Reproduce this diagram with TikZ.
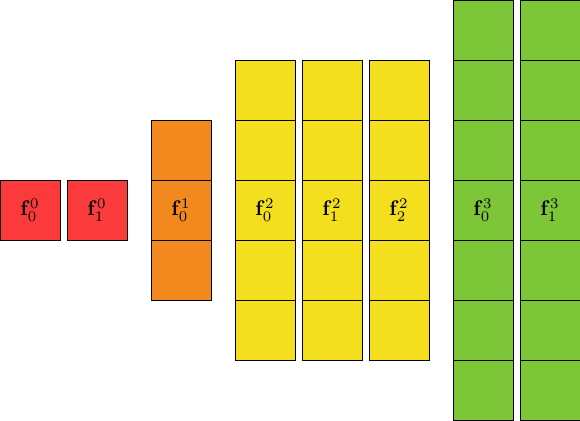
\documentclass[tikz,border=0pt]{standalone}
\usepackage{amsmath}
\definecolor{lvlzero}{RGB}{251,59,59}
\definecolor{lvlone}{RGB}{242,137,30}
\definecolor{lvltwo}{RGB}{243,223,30}
\definecolor{lvlthree}{RGB}{125,198,55}
\tikzset{cell/.style={draw, minimum size=1cm, inner sep=0pt, line width=0.45pt}}
\begin{document}
\begin{tikzpicture}
    \useasboundingbox (0,-3.5) rectangle (9.6667,3.5);
    % level 0
    \foreach \i/\x in {0/0.5, 1/1.6167}
        \node[cell, fill=lvlzero] (f0-\i) at (\x,0) {$\mathbf{f}^0_{\i}$};
    % level 1
    \foreach \r in {-1,...,1}
        \node[cell, fill=lvlone] (f1-0-\r) at (3.0167,\r) {};
    \node (l1-0) at (f1-0-0) {$\mathbf{f}^1_0$};
    % level 2
    \foreach \i/\x in {0/4.4167, 1/5.5333, 2/6.65} {
        \foreach \r in {-2,...,2}
            \node[cell, fill=lvltwo] (f2-\i-\r) at (\x,\r) {};
        \node (l2-\i) at (f2-\i-0) {$\mathbf{f}^2_{\i}$};
    }
    % level 3
    \foreach \i/\x in {0/8.05, 1/9.1667} {
        \foreach \r in {-3,...,3}
            \node[cell, fill=lvlthree] (f3-\i-\r) at (\x,\r) {};
        \node (l3-\i) at (f3-\i-0) {$\mathbf{f}^3_{\i}$};
    }
\end{tikzpicture}
\end{document}
